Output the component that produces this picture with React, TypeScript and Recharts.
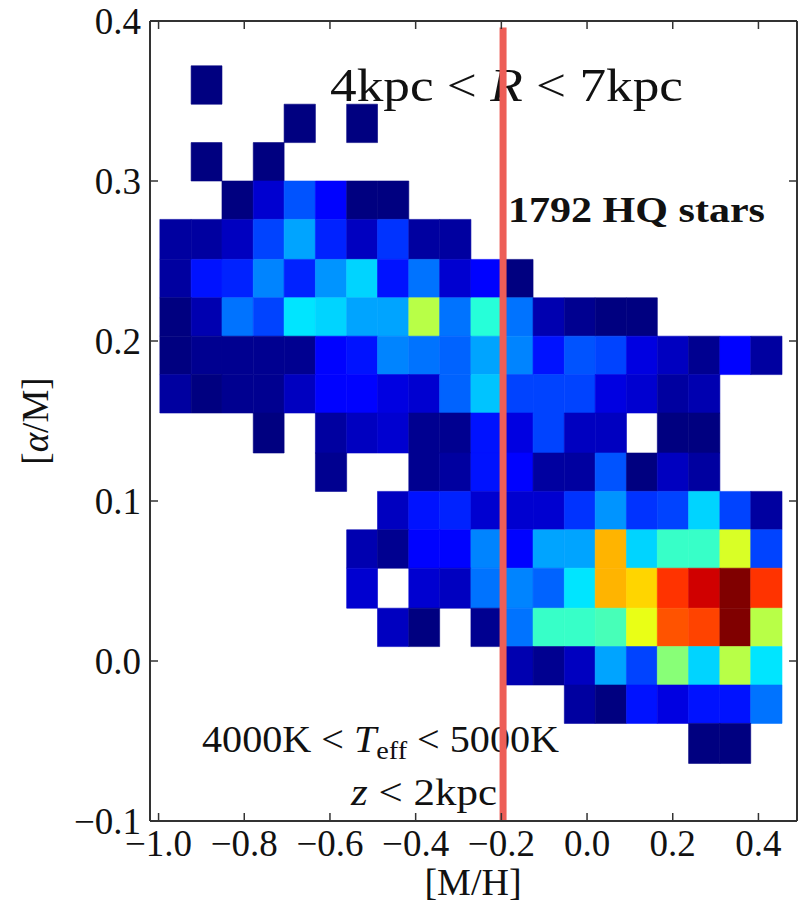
import { ScatterChart, Scatter, XAxis, YAxis, ReferenceArea, ReferenceLine, Customized } from "recharts";

// histogram bin edges
const X_EDGES = [
  -0.997, -0.924, -0.852, -0.779, -0.707, -0.634, -0.561, -0.489, -0.416, -0.344, -0.271,
  -0.198, -0.126, -0.053, 0.019, 0.092, 0.164, 0.237, 0.31, 0.382, 0.455,
];
const Y_EDGES = [
  -0.064, -0.039, -0.015, 0.009, 0.033, 0.058, 0.082, 0.106, 0.13, 0.155,
  0.179, 0.203, 0.227, 0.251, 0.276, 0.3, 0.324, 0.348, 0.372,
];

// star counts per bin, top row ([α/M] highest) first, 0 = empty
const COUNTS_TOP_DOWN = [
  [0, 1, 0, 0, 0, 0, 0, 0, 0, 0, 0, 0, 0, 0, 0, 0, 0, 0, 0, 0],
  [0, 0, 0, 0, 1, 0, 1, 0, 0, 0, 0, 0, 0, 0, 0, 0, 0, 0, 0, 0],
  [0, 1, 0, 1, 0, 0, 0, 0, 0, 0, 0, 0, 0, 0, 0, 0, 0, 0, 0, 0],
  [0, 0, 1, 6, 14, 9, 1, 1, 0, 0, 0, 0, 0, 0, 0, 0, 0, 0, 0, 0],
  [3, 3, 5, 13, 19, 11, 5, 12, 3, 3, 0, 0, 0, 0, 0, 0, 0, 0, 0, 0],
  [3, 10, 11, 17, 11, 18, 22, 10, 16, 6, 9, 1, 0, 0, 0, 0, 0, 0, 0, 0],
  [1, 4, 16, 13, 23, 22, 19, 19, 36, 16, 27, 16, 4, 2, 1, 1, 0, 0, 0, 0],
  [1, 2, 2, 2, 2, 9, 10, 17, 16, 15, 19, 17, 10, 14, 13, 7, 5, 2, 9, 3],
  [3, 1, 2, 2, 5, 9, 9, 7, 6, 15, 21, 13, 13, 13, 7, 6, 3, 4, 0, 0],
  [0, 0, 0, 1, 0, 3, 5, 6, 2, 2, 10, 7, 13, 5, 5, 0, 1, 1, 0, 0],
  [0, 0, 0, 0, 0, 2, 0, 0, 2, 3, 10, 9, 3, 3, 14, 1, 5, 3, 0, 0],
  [0, 0, 0, 0, 0, 0, 0, 5, 10, 11, 6, 6, 6, 12, 18, 12, 13, 22, 13, 3],
  [0, 0, 0, 0, 0, 0, 4, 2, 9, 9, 17, 9, 19, 19, 45, 22, 28, 28, 38, 13],
  [0, 0, 0, 0, 0, 0, 6, 0, 6, 5, 16, 17, 15, 23, 45, 43, 53, 59, 64, 53],
  [0, 0, 0, 0, 0, 0, 0, 5, 1, 0, 2, 16, 28, 28, 29, 39, 51, 52, 64, 36],
  [0, 0, 0, 0, 0, 0, 0, 0, 0, 0, 0, 4, 2, 5, 19, 13, 33, 22, 36, 23],
  [0, 0, 0, 0, 0, 0, 0, 0, 0, 0, 0, 0, 0, 3, 1, 10, 7, 10, 10, 16],
  [0, 0, 0, 0, 0, 0, 0, 0, 0, 0, 0, 0, 0, 0, 0, 0, 0, 1, 1, 0],
];

const X_TICKS = [-1.0, -0.8, -0.6, -0.4, -0.2, 0.0, 0.2, 0.4];
const Y_TICKS = [-0.1, 0.0, 0.1, 0.2, 0.3, 0.4];
const X_DOMAIN = [-1.02, 0.49];
const Y_DOMAIN = [-0.1, 0.4];
const CUT_MH = -0.196;
const CUT_TOP = 0.396;
const COUNT_MIN = 1;
const COUNT_MAX = 64;

const SERIF = "'Liberation Serif', 'DejaVu Serif', serif";
const INK = "#111";
const AXIS = "#333";
const TICK_LEN = 8;

const clamp = (v: number) => Math.max(0, Math.min(1, v));
function jet(t: number) {
  const r = clamp(Math.min(4 * t - 1.5, -4 * t + 4.5));
  const g = clamp(Math.min(4 * t - 0.5, -4 * t + 3.5));
  const b = clamp(Math.min(4 * t + 0.5, -4 * t + 2.5));
  const h = (v: number) => Math.round(v * 255).toString(16).padStart(2, "0");
  return `#${h(r)}${h(g)}${h(b)}`;
}

const nRows = COUNTS_TOP_DOWN.length;
const cells = COUNTS_TOP_DOWN.flatMap((row, r) => {
  const j = nRows - 1 - r;
  return row
    .map((count, c) => ({
      count,
      x1: X_EDGES[c],
      x2: X_EDGES[c + 1],
      y1: Y_EDGES[j],
      y2: Y_EDGES[j + 1],
      x: (X_EDGES[c] + X_EDGES[c + 1]) / 2,
      y: (Y_EDGES[j] + Y_EDGES[j + 1]) / 2,
      color: jet((count - COUNT_MIN) / (COUNT_MAX - COUNT_MIN)),
    }))
    .filter((d) => d.count > 0);
});

const fmt = (v: number) => v.toFixed(1).replace("-", "\u2212");

const BottomTick = ({ x, y, payload }: any) => (
  <g>
    <line x1={x} x2={x} y1={y} y2={y - TICK_LEN} stroke={AXIS} strokeWidth={1.5} />
    <text x={x} y={y + 35} textAnchor="middle" fontSize={37} fontFamily={SERIF} fill={INK}>
      {fmt(payload.value)}
    </text>
  </g>
);
const TopTick = ({ x, y }: any) => (
  <line x1={x} x2={x} y1={y} y2={y + TICK_LEN} stroke={AXIS} strokeWidth={1.5} />
);
const LeftTick = ({ x, y, payload }: any) => (
  <g>
    <line x1={x} x2={x + TICK_LEN} y1={y} y2={y} stroke={AXIS} strokeWidth={1.5} />
    <text x={x - 9} y={y} dy="0.34em" textAnchor="end" fontSize={37} fontFamily={SERIF} fill={INK}>
      {fmt(payload.value)}
    </text>
  </g>
);
const RightTick = ({ x, y }: any) => (
  <line x1={x} x2={x - TICK_LEN} y1={y} y2={y} stroke={AXIS} strokeWidth={1.5} />
);

function Annotations() {
  return (
    <g fontFamily={SERIF} fill={INK}>
      <text x={330} y={101} fontSize={46} textLength={353} lengthAdjust="spacingAndGlyphs">
        4kpc {"<"} <tspan fontStyle="italic">R</tspan> {"<"} 7kpc
      </text>
      <text x={508} y={222} fontSize={35} fontWeight="bold" textLength={257} lengthAdjust="spacingAndGlyphs">
        1792 HQ stars
      </text>
      <text x={202} y={752} fontSize={37} textLength={357} lengthAdjust="spacingAndGlyphs">
        4000K {"<"} <tspan fontStyle="italic">T</tspan>
        <tspan fontSize={26} dy={7}>eff</tspan>
        <tspan dy={-7}> {"<"} 5000K</tspan>
      </text>
      <text x={351} y={805} fontSize={37} textLength={146} lengthAdjust="spacingAndGlyphs">
        <tspan fontStyle="italic">z</tspan> {"<"} 2kpc
      </text>
      <text x={473} y={895} fontSize={38} textAnchor="middle">
        [M/H]
      </text>
      <text x={48} y={421} fontSize={37} textAnchor="middle" transform="rotate(-90 48 421)">
        [<tspan fontStyle="italic">α</tspan>/M]
      </text>
    </g>
  );
}

export default function App() {
  return (
    <div style={{ position: "absolute", left: 0, top: 0, width: 805, height: 906, background: "#fff" }}>
      <ScatterChart width={805} height={906} margin={{ top: 20, right: 7, bottom: 84, left: 149 }}>
        <XAxis
          xAxisId="b"
          type="number"
          dataKey="x"
          orientation="bottom"
          domain={X_DOMAIN}
          ticks={X_TICKS}
          allowDataOverflow
          height={1}
          tickSize={0}
          tickMargin={0}
          tickLine={false}
          tick={BottomTick}
          axisLine={{ stroke: AXIS, strokeWidth: 2 }}
        />
        <XAxis
          xAxisId="t"
          type="number"
          dataKey="x"
          orientation="top"
          domain={X_DOMAIN}
          ticks={X_TICKS}
          allowDataOverflow
          height={1}
          tickSize={0}
          tickMargin={0}
          tickLine={false}
          tick={TopTick}
          axisLine={{ stroke: AXIS, strokeWidth: 2 }}
        />
        <YAxis
          yAxisId="l"
          type="number"
          dataKey="y"
          orientation="left"
          domain={Y_DOMAIN}
          ticks={Y_TICKS}
          allowDataOverflow
          width={1}
          tickSize={0}
          tickMargin={0}
          tickLine={false}
          tick={LeftTick}
          axisLine={{ stroke: AXIS, strokeWidth: 2 }}
        />
        <YAxis
          yAxisId="r"
          type="number"
          dataKey="y"
          orientation="right"
          domain={Y_DOMAIN}
          ticks={Y_TICKS}
          allowDataOverflow
          width={1}
          tickSize={0}
          tickMargin={0}
          tickLine={false}
          tick={RightTick}
          axisLine={{ stroke: AXIS, strokeWidth: 2 }}
        />
        {cells.map((d, i) => (
          <ReferenceArea
            key={i}
            xAxisId="b"
            yAxisId="l"
            x1={d.x1}
            x2={d.x2}
            y1={d.y1}
            y2={d.y2}
            fill={d.color}
            fillOpacity={1}
            stroke={d.color}
            strokeWidth={0.6}
          />
        ))}
        <Scatter xAxisId="b" yAxisId="l" data={cells} isAnimationActive={false} shape={() => <g />} />
        <Scatter xAxisId="t" yAxisId="r" data={cells} isAnimationActive={false} shape={() => <g />} />
        <Customized component={<Annotations />} />
        <ReferenceLine
          xAxisId="b"
          yAxisId="l"
          segment={[
            { x: CUT_MH, y: Y_DOMAIN[0] },
            { x: CUT_MH, y: CUT_TOP },
          ]}
          stroke="#ED5E57"
          strokeWidth={7}
        />
      </ScatterChart>
    </div>
  );
}
